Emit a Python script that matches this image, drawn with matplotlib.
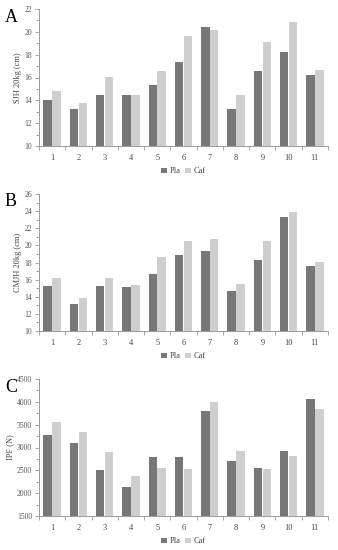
import numpy as np
import matplotlib.pyplot as plt
from matplotlib.ticker import MultipleLocator

plt.rcParams['font.family'] = ['Liberation Serif', 'DejaVu Serif']

subjects = [str(i) for i in range(1, 12)]
sjh_pla = [14.0, 13.25, 14.5, 14.5, 15.3, 17.4, 20.4, 13.2, 16.6, 18.25, 16.25]
sjh_caf = [14.8, 13.8, 16.05, 14.5, 16.6, 19.6, 20.15, 14.45, 19.15, 20.9, 16.7]
cmjh_pla = [15.3, 13.1, 15.25, 15.15, 16.7, 18.9, 19.3, 14.65, 18.3, 23.3, 17.55]
cmjh_caf = [16.15, 13.9, 16.15, 15.35, 18.6, 20.5, 20.8, 15.5, 20.55, 23.9, 18.1]
ipf_pla = [3280, 3100, 2510, 2140, 2790, 2790, 3800, 2700, 2550, 2920, 4070]
ipf_caf = [3560, 3350, 2910, 2380, 2560, 2530, 3990, 2920, 2540, 2820, 3850]

panels = [
    ("A", "SJH 20kg (cm)", sjh_pla, sjh_caf, (10, 22), 2),
    ("B", "CMJH 20kg (cm)", cmjh_pla, cmjh_caf, (10, 26), 2),
    ("C", "IPF (N)", ipf_pla, ipf_caf, (1500, 4500), 500),
]

fig = plt.figure(figsize=(3.38, 5.5), dpi=100)
tops = [9, 194, 379]
x = np.arange(len(subjects))
w = 0.32
for (letter, ylab, pla, caf, ylim, step), top in zip(panels, tops):
    ax = fig.add_axes([39 / 338, 1 - (top + 137) / 550, 289 / 338, 137 / 550])
    ax.bar(x - w / 2 - 0.01, pla, w, color="#777777", label="Pla")
    ax.bar(x + w / 2 + 0.01, caf, w, color="#d0cdcd", label="Caf")
    ax.set_ylim(*ylim)
    ax.set_xlim(-0.5, len(subjects) - 0.5)
    ax.yaxis.set_major_locator(MultipleLocator(step))
    ax.yaxis.set_minor_locator(MultipleLocator(step / 2))
    ax.set_xticks(x)
    ax.set_xticklabels(subjects)
    ax.set_xticks(np.arange(-0.5, len(subjects)), minor=True)
    ax.tick_params(axis="x", which="major", length=0, labelsize=6, pad=6, colors="#444444")
    ax.tick_params(axis="x", which="minor", length=3, color="#999999", width=0.6)
    ax.tick_params(axis="y", which="both", labelsize=5.5, color="#999999", width=0.6,
                   labelcolor="#555555", pad=2)
    ax.tick_params(axis="y", which="major", length=3)
    ax.tick_params(axis="y", which="minor", length=2)
    for s in ["top", "right"]:
        ax.spines[s].set_visible(False)
    for s in ["left", "bottom"]:
        ax.spines[s].set_color("#999999")
        ax.spines[s].set_linewidth(0.7)
    ax.set_ylabel(ylab, fontsize=6, color="#444444", labelpad=2)
    ax.legend(loc="center", bbox_to_anchor=(0.5, -0.185), ncol=2, frameon=False,
              fontsize=6, handlelength=0.7, handleheight=0.7, handletextpad=0.3,
              columnspacing=0.6, labelcolor="#444444", borderpad=0.1)
    fig.text(5 / 338, 1 - (top + 8) / 550, letter, fontsize=13, va="center", ha="left")

fig.savefig("out.png", dpi=100)
